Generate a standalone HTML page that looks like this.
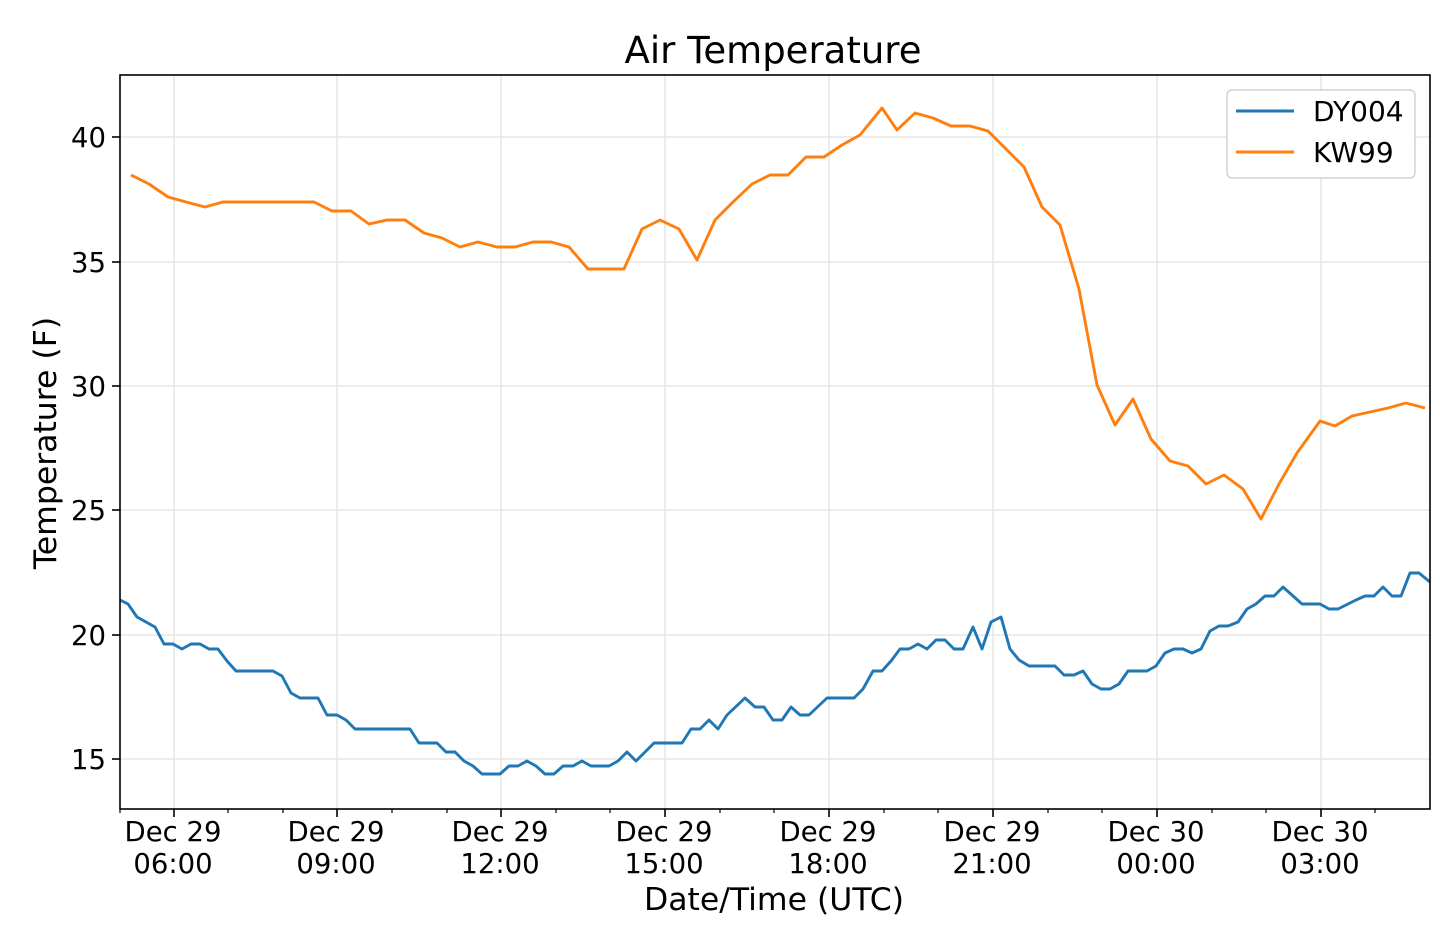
<!DOCTYPE html>
<html><head><meta charset="utf-8"><style>
html,body{margin:0;padding:0;background:#fff}
svg{display:block}
text{font-family:"DejaVu Sans","Liberation Sans",sans-serif;fill:#000}
</style></head><body>
<svg width="1440" height="935" viewBox="0 0 1440 935" xmlns="http://www.w3.org/2000/svg">
<g stroke="#e6e6e6" stroke-width="1.6">
<line x1="174" y1="75" x2="174" y2="809"/><line x1="337" y1="75" x2="337" y2="809"/>
<line x1="501" y1="75" x2="501" y2="809"/><line x1="665" y1="75" x2="665" y2="809"/>
<line x1="829" y1="75" x2="829" y2="809"/><line x1="993" y1="75" x2="993" y2="809"/>
<line x1="1157" y1="75" x2="1157" y2="809"/><line x1="1321" y1="75" x2="1321" y2="809"/>
<line x1="120" y1="137" x2="1430" y2="137"/><line x1="120" y1="262" x2="1430" y2="262"/>
<line x1="120" y1="386" x2="1430" y2="386"/><line x1="120" y1="510" x2="1430" y2="510"/>
<line x1="120" y1="635" x2="1430" y2="635"/><line x1="120" y1="759" x2="1430" y2="759"/>
</g>
<polyline fill="none" stroke="#1f77b4" stroke-width="2.9" stroke-linejoin="round" points="120,600 128,604 137,617 146,622 155,627 164,644 173,644 182,649 191,644 200,644 209,649 218,649 227,661 236,671 245,671 273,671 282,676 291,693 300,698 318,698 327,715 337,715 346,720 355,729 410,729 419,743 437,743 446,752 455,752 464,761 473,766 482,774 500,774 509,766 518,766 527,761 536,766 545,774 554,774 563,766 573,766 582,761 591,766 609,766 618,761 627,752 636,761 645,752 654,743 682,743 691,729 700,729 709,720 718,729 727,715 745,698 755,707 764,707 773,720 782,720 791,707 800,715 809,715 827,698 854,698 863,689 873,671 882,671 891,661 900,649 909,649 918,644 927,649 936,640 945,640 954,649 963,649 973,627 982,649 991,622 1001,617 1010,649 1019,660 1029,666 1055,666 1064,675 1074,675 1083,671 1092,684 1101,689 1110,689 1119,684 1128,671 1147,671 1156,666 1165,653 1174,649 1183,649 1192,653 1201,649 1210,631 1219,626 1228,626 1238,622 1247,609 1256,604 1265,596 1274,596 1283,587 1302,604 1320,604 1329,609 1338,609 1356,600 1365,596 1374,596 1383,587 1392,596 1401,596 1410,573 1419,573 1430,582"/>
<polyline fill="none" stroke="#ff7f0e" stroke-width="2.9" stroke-linejoin="round" points="131,175 149,184 168,197 186,202 205,207 223,202 314,202 332,211 351,211 369,224 387,220 405,220 424,233 442,238 460,247 478,242 497,247 515,247 533,242 551,242 569,247 588,269 624,269 642,229 660,220 679,229 697,260 715,220 733,202 752,184 770,175 788,175 806,157 824,157 842,145 860,135 882,108 897,130 915,113 933,118 951,126 970,126 988,131 1006,149 1024,167 1042,207 1060,225 1079,289 1097,385 1115,425 1133,399 1151,439 1170,461 1188,466 1206,484 1224,475 1243,489 1261,519 1279,484 1297,453 1320,421 1335,426 1352,416 1370,412 1388,408 1406,403 1425,408"/>
<rect x="120" y="75" width="1310" height="734" fill="none" stroke="#000" stroke-width="1.6"/>
<g stroke="#000" stroke-width="1.6">
<line x1="174" y1="809" x2="174" y2="817"/><line x1="337" y1="809" x2="337" y2="817"/>
<line x1="501" y1="809" x2="501" y2="817"/><line x1="665" y1="809" x2="665" y2="817"/>
<line x1="829" y1="809" x2="829" y2="817"/><line x1="993" y1="809" x2="993" y2="817"/>
<line x1="1157" y1="809" x2="1157" y2="817"/><line x1="1321" y1="809" x2="1321" y2="817"/>
<line x1="112" y1="137" x2="120" y2="137"/><line x1="112" y1="262" x2="120" y2="262"/>
<line x1="112" y1="386" x2="120" y2="386"/><line x1="112" y1="510" x2="120" y2="510"/>
<line x1="112" y1="635" x2="120" y2="635"/><line x1="112" y1="759" x2="120" y2="759"/>
</g>
<g stroke="#000" stroke-width="1.2">
<line x1="120" y1="809" x2="120" y2="813"/><line x1="228" y1="809" x2="228" y2="813"/><line x1="283" y1="809" x2="283" y2="813"/>
<line x1="392" y1="809" x2="392" y2="813"/><line x1="447" y1="809" x2="447" y2="813"/>
<line x1="556" y1="809" x2="556" y2="813"/><line x1="610" y1="809" x2="610" y2="813"/>
<line x1="720" y1="809" x2="720" y2="813"/><line x1="774" y1="809" x2="774" y2="813"/>
<line x1="884" y1="809" x2="884" y2="813"/><line x1="938" y1="809" x2="938" y2="813"/>
<line x1="1048" y1="809" x2="1048" y2="813"/><line x1="1102" y1="809" x2="1102" y2="813"/>
<line x1="1212" y1="809" x2="1212" y2="813"/><line x1="1266" y1="809" x2="1266" y2="813"/>
<line x1="1375" y1="809" x2="1375" y2="813"/>
</g>
<g font-size="27.5" text-anchor="end">
<text x="106" y="147">40</text><text x="106" y="272">35</text><text x="106" y="396">30</text>
<text x="106" y="520">25</text><text x="106" y="645">20</text><text x="106" y="769">15</text>
</g>
<g font-size="27.5" text-anchor="middle">
<text x="173" y="841">Dec 29</text><text x="173" y="873">06:00</text>
<text x="336" y="841">Dec 29</text><text x="336" y="873">09:00</text>
<text x="500" y="841">Dec 29</text><text x="500" y="873">12:00</text>
<text x="664" y="841">Dec 29</text><text x="664" y="873">15:00</text>
<text x="828" y="841">Dec 29</text><text x="828" y="873">18:00</text>
<text x="992" y="841">Dec 29</text><text x="992" y="873">21:00</text>
<text x="1156" y="841">Dec 30</text><text x="1156" y="873">00:00</text>
<text x="1320" y="841">Dec 30</text><text x="1320" y="873">03:00</text>
<text x="774" y="910" font-size="31.5">Date/Time (UTC)</text>
<text x="773" y="63" font-size="37">Air Temperature</text>
<text transform="translate(56,443) rotate(-90)" font-size="31.5">Temperature (F)</text>
</g>
<rect x="1227" y="90" width="188" height="88" rx="5" fill="#fff" stroke="#d0d0d0" stroke-width="1.4"/>
<line x1="1236" y1="111" x2="1294" y2="111" stroke="#1f77b4" stroke-width="2.9"/>
<line x1="1236" y1="152" x2="1294" y2="152" stroke="#ff7f0e" stroke-width="2.9"/>
<text x="1313" y="121" font-size="28">DY004</text>
<text x="1313" y="162" font-size="28">KW99</text>
</svg>
</body></html>
